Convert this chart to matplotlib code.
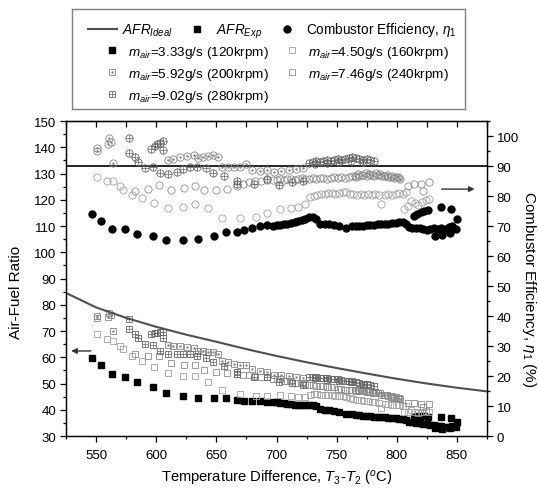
import matplotlib
matplotlib.use("Agg")
import matplotlib.pyplot as plt
from matplotlib.lines import Line2D

plt.rcParams['font.family'] = ['Liberation Sans', 'DejaVu Sans']
plt.rcParams['mathtext.fontset'] = 'custom'
plt.rcParams['mathtext.rm'] = 'Liberation Sans'
plt.rcParams['mathtext.it'] = 'Liberation Sans:italic'

# ideal air-fuel ratio curve
t_ideal = [525, 550, 575, 600, 625, 650, 675, 700, 725, 750, 775, 800, 825, 850, 875]
afr_ideal = [84.5, 79.0, 75.0, 71.6, 68.6, 65.9, 63.1, 60.5, 58.1, 55.9, 53.8, 51.8, 50.0, 48.4, 47.0]

# 3.33 g/s (120krpm)
t_s1 = [547, 554, 563, 574, 584, 597, 608, 622, 635, 648, 658, 667, 673, 680, 686, 692,
        697, 700, 703, 706, 709, 712, 715, 718, 721, 724, 727, 730, 733,
        736, 740, 744, 748, 752, 758,
        763, 766, 769, 772, 775, 778, 781, 784, 787, 790, 793, 796, 799, 802, 805, 808,
        810, 813, 816, 819, 822, 825, 828, 831, 834, 837, 840, 843, 846, 849,
        814, 817, 820, 823, 826, 837, 845, 832, 838, 844, 850]
afr_s1 = [59.7, 57.0, 53.6, 52.5, 50.6, 48.6, 46.4, 45.2, 44.4, 44.4, 44.4, 43.7, 43.3, 43.3, 43.3, 43.0,
          42.9, 42.8, 42.6, 42.5, 42.3, 42.2, 42.0, 42.0, 41.9, 41.9, 42.0, 41.8, 41.3,
          40.2, 40.0, 39.8, 39.5, 39.2, 38.3,
          38.3, 38.1, 38.0, 37.8, 37.7, 37.5, 37.4, 37.3, 37.2, 37.1, 36.9, 36.8, 36.7, 36.6, 36.5, 36.0,
          35.3, 35.2, 35.0, 34.8, 34.6, 34.4, 34.3, 34.1, 33.9, 33.8, 33.6, 33.5, 33.7, 33.6,
          37.3, 37.6, 37.5, 37.8, 37.4, 37.3, 36.9, 33.0, 32.8, 33.0, 35.2]
eff_s1 = [74.0, 71.7, 69.0, 69.0, 67.3, 66.7, 65.3, 65.3, 65.7, 66.7, 68.0, 68.0, 68.7, 69.3, 70.0, 70.3,
          70.0, 70.3, 70.3, 70.7, 70.7, 71.0, 71.3, 71.7, 72.0, 72.3, 73.0, 73.0, 72.3,
          70.7, 70.7, 70.7, 70.3, 70.0, 69.3,
          70.0, 70.0, 70.0, 70.0, 70.3, 70.3, 70.3, 70.7, 70.7, 70.7, 70.7, 71.0, 71.0, 71.3, 71.3, 70.7,
          69.7, 69.3, 69.3, 69.3, 69.0, 68.7, 69.0, 69.3, 69.0, 69.3, 69.0, 69.7, 70.0, 69.0,
          73.3, 74.0, 74.7, 75.0, 75.3, 76.3, 75.7, 66.7, 67.0, 67.7, 72.3]

# 4.50 g/s (160krpm)
t_s2 = [551, 559, 564, 570, 572, 580, 588, 598, 610, 622, 632, 643, 655, 670, 683, 692, 703, 712, 718, 724,
        728, 731, 734, 737, 740, 743, 746, 749, 752, 755, 758, 761, 764, 767, 770, 773, 776, 779, 782, 785,
        790, 793, 796, 799, 802, 805, 808, 787, 806, 809, 812, 815, 818, 821, 824, 827]
afr_s2 = [68.9, 67.0, 66.2, 64.3, 63.0, 60.5, 58.6, 56.3, 54.0, 52.9, 52.9, 50.6, 47.5, 46.0, 45.2, 45.2, 45.6, 45.2, 45.0, 44.9,
          45.8, 46.0, 45.9, 45.8, 45.8, 45.8, 45.5, 45.2, 45.3, 45.2, 45.0, 44.5, 44.1, 43.8, 43.8, 43.5, 43.3, 43.0, 42.9, 42.6,
          42.3, 42.1, 41.8, 41.8, 41.7, 41.3, 41.3, 40.7, 39.0, 39.3, 39.8, 39.3, 38.9, 39.3, 39.5, 39.3]
eff_s2 = [86.3, 85.0, 85.0, 83.3, 82.0, 80.3, 79.3, 77.7, 76.0, 76.3, 77.3, 76.0, 72.7, 72.7, 73.0, 74.3, 75.7, 76.0, 76.3, 77.3,
          79.7, 80.0, 80.3, 80.7, 80.7, 81.0, 81.0, 80.7, 81.0, 81.3, 81.3, 80.7, 80.7, 80.3, 80.7, 80.3, 80.7, 80.3, 80.7, 80.3,
          80.3, 80.7, 80.3, 80.7, 81.0, 80.7, 81.3, 77.3, 75.7, 76.7, 78.3, 77.7, 77.0, 78.0, 78.7, 79.0]

# 5.92 g/s (200krpm)
t_s3 = [551, 551, 560, 561, 562, 564, 610, 614, 620, 626, 631, 635, 639, 643, 647, 651,
        655, 660, 665, 670, 675, 680, 686, 692, 698, 704, 710, 716, 722,
        765, 768, 771, 774, 777, 780, 783, 786, 789, 792, 795, 798, 801, 803]
afr_s3 = [75.6, 74.9, 75.4, 77.0, 76.0, 70.1, 64.7, 64.4, 64.3, 63.9, 63.6, 62.5, 62.3, 62.1, 62.1, 61.3,
          58.7, 58.1, 57.6, 57.0, 57.1, 55.4, 54.7, 54.4, 53.4, 53.1, 52.8, 52.4, 52.1,
          47.4, 47.6, 47.2, 47.3, 46.9, 46.5, 46.6, 46.2, 45.7, 45.6, 45.0, 44.6, 44.5, 44.1]
eff_s3 = [96.0, 95.0, 97.3, 99.3, 98.0, 91.0, 92.0, 92.3, 93.0, 93.3, 93.7, 92.7, 93.0, 93.3, 93.7, 93.0,
          89.7, 89.7, 89.7, 89.7, 90.7, 88.7, 88.3, 88.7, 88.0, 88.3, 88.7, 89.0, 89.3,
          86.7, 87.3, 87.0, 87.7, 87.3, 87.0, 87.7, 87.3, 86.7, 87.0, 86.3, 86.0, 86.3, 85.7]

# 7.46 g/s (240krpm)
t_s4 = [582, 593, 602, 612, 623, 632, 640, 650, 659, 667, 672, 677, 682, 687, 692,
        697, 700, 703, 706, 709, 712, 715, 718, 721, 724, 727, 730, 733, 736, 739, 742, 745, 748, 751, 754,
        757, 760, 763, 766, 769, 772, 775, 778, 781, 784, 787, 790, 793, 796, 799, 802,
        809, 814, 820, 822, 827]
afr_s4 = [61.2, 60.5, 60.5, 57.8, 57.0, 57.0, 55.2, 54.4, 54.0, 53.6, 53.3, 53.2, 53.0, 52.5, 52.3,
          51.9, 51.6, 51.6, 51.1, 51.1, 50.8, 50.3, 50.3, 50.2, 49.8, 49.5, 49.5, 49.2, 49.1, 48.9, 48.5, 48.5, 48.5, 48.1, 48.0,
          47.6, 47.6, 47.6, 47.1, 47.2, 47.1, 46.6, 46.6, 46.2, 46.2, 45.8, 45.6, 45.2, 45.1, 44.7, 44.4,
          42.5, 42.5, 42.3, 41.0, 42.3]
eff_s4 = [81.7, 82.3, 83.7, 82.0, 82.7, 83.3, 82.0, 82.0, 82.3, 83.3, 84.0, 84.7, 85.0, 85.0, 85.3,
          85.3, 85.3, 85.7, 85.3, 85.7, 85.7, 85.3, 85.7, 86.0, 85.7, 85.7, 86.0, 85.7, 86.0, 86.0, 85.7, 86.0, 86.3, 86.0, 86.3,
          86.0, 86.3, 86.7, 86.3, 86.7, 87.0, 86.7, 87.0, 86.7, 87.0, 86.7, 86.7, 86.3, 86.7, 86.3, 86.0,
          83.3, 84.0, 84.0, 81.7, 84.7]

# 9.02 g/s (280krpm)
t_s5 = [577, 577, 582, 585, 591, 597, 603, 610, 617, 622, 628, 634, 641, 647, 656, 667, 667, 681, 692, 702, 713, 722,
        596, 599, 601, 603, 606, 606,
        727, 730, 733, 736, 739, 742, 745, 748, 751, 754, 757, 760, 763, 766, 769, 772, 775, 778, 781,
        732, 742, 752, 762, 772]
afr_s5 = [74.5, 70.7, 69.0, 67.4, 65.1, 64.5, 62.4, 61.4, 61.2, 61.3, 61.2, 60.6, 59.7, 58.1, 56.6, 54.4, 53.8, 52.4, 52.5, 50.5, 50.1, 49.6,
          68.8, 69.1, 69.4, 69.5, 69.5, 67.4,
          52.6, 52.6, 52.6, 52.1, 52.2, 52.1, 51.7, 51.7, 51.6, 51.2, 51.1, 51.1, 51.1, 50.6, 50.2, 49.8, 49.7, 49.3, 48.9,
          52.0, 51.5, 51.0, 50.4, 49.4]
eff_s5 = [99.3, 94.3, 93.0, 91.3, 89.3, 89.7, 87.7, 87.3, 88.0, 89.0, 89.7, 89.7, 89.3, 87.7, 86.7, 85.0, 84.0, 84.0, 85.7, 83.7, 84.7, 85.0,
          95.7, 96.7, 97.3, 97.7, 98.3, 95.3,
          91.0, 91.3, 91.7, 91.3, 91.7, 92.0, 91.7, 92.0, 92.3, 92.0, 92.3, 92.7, 93.0, 92.7, 92.3, 92.0, 92.3, 92.0, 91.7,
          90.7, 91.0, 91.3, 91.7, 91.3]

fig = plt.figure(figsize=(5.38, 4.89), dpi=100)
ax = fig.add_axes([0.1227, 0.1063, 0.7825, 0.6442])
ax2 = ax.twinx()

g2, g3, g4, g5 = '#a0a0a0', '#858585', '#8c8c8c', '#666666'
ms_sq = 4.5
ms_ci = 5.2
mew = 0.6

# AFR (left axis)
ax.plot(t_ideal, afr_ideal, color='#505050', lw=1.5, zorder=3)
h_s1, = ax.plot(t_s1, afr_s1, 's', color='black', ms=4.3, ls='none')
h_s2, = ax.plot(t_s2, afr_s2, 's', mfc='none', mec=g2, ms=ms_sq, mew=mew, ls='none')
h_s3, = ax.plot(t_s3, afr_s3, 's', mfc='none', mec=g3, ms=ms_sq, mew=mew, ls='none')
h_s3b, = ax.plot(t_s3, afr_s3, '.', color=g3, ms=1.5, ls='none')
h_s4, = ax.plot(t_s4, afr_s4, 's', mfc='none', mec=g4, ms=ms_sq, mew=mew, ls='none')
h_s5, = ax.plot(t_s5, afr_s5, 's', mfc='none', mec=g5, ms=ms_sq, mew=mew, ls='none')
h_s5b, = ax.plot(t_s5, afr_s5, '+', color=g5, ms=ms_sq, mew=0.5, ls='none')

# efficiency (right axis)
ax2.axhline(90, color='black', lw=1.2)
ax2.plot(t_s1, eff_s1, 'o', color='black', ms=5, ls='none')
ax2.plot(t_s2, eff_s2, 'o', mfc='none', mec=g2, ms=ms_ci, mew=mew, ls='none')
ax2.plot(t_s3, eff_s3, 'o', mfc='none', mec=g3, ms=ms_ci, mew=mew, ls='none')
ax2.plot(t_s3, eff_s3, '.', color=g3, ms=1.5, ls='none')
ax2.plot(t_s4, eff_s4, 'o', mfc='none', mec=g4, ms=ms_ci, mew=mew, ls='none')
ax2.plot(t_s5, eff_s5, 'o', mfc='none', mec=g5, ms=ms_ci, mew=mew, ls='none')
ax2.plot(t_s5, eff_s5, '+', color=g5, ms=ms_ci, mew=0.5, ls='none')

ax.annotate('', xy=(527, 62.4), xytext=(548, 62.4),
            arrowprops=dict(arrowstyle='-|>', color='#333333', lw=1, mutation_scale=8))
ax2.annotate('', xy=(867, 82.3), xytext=(835, 82.3),
             arrowprops=dict(arrowstyle='-|>', color='#333333', lw=1, mutation_scale=8))

ax.set_xlim(525, 875)
ax.set_ylim(30, 150)
ax2.set_ylim(0, 105)
ax.set_xticks([550, 600, 650, 700, 750, 800, 850])
ax.set_xticks(range(525, 876, 25), minor=True)
ax.set_yticks(range(30, 151, 10))
ax.set_yticks(range(30, 151, 5), minor=True)
ax2.set_yticks(range(0, 101, 10))
ax2.set_yticks(range(0, 106, 5), minor=True)

for a in (ax, ax2):
    a.tick_params(which='major', direction='out', length=4, width=0.9, labelsize=9.5, pad=3)
    a.tick_params(which='minor', direction='out', length=2.2, width=0.9)
    for s in a.spines.values():
        s.set_linewidth(0.9)
ax.tick_params(axis='x', which='major', pad=5)

top = ax.secondary_xaxis('top')
top.set_xticks(range(525, 876, 25))
top.tick_params(direction='in', length=4, width=0.9, labeltop=False)

ax.set_ylabel('Air-Fuel Ratio', fontsize=11)
ax.yaxis.set_label_coords(-0.102, 0.46)
ax2.set_ylabel(r'Combustor Efficiency, $\eta_1$ (%)', fontsize=11, rotation=270, va='center')
ax2.yaxis.set_label_coords(1.10, 0.47)
ax.set_xlabel(r'Temperature Difference, $T_3$-$T_2$ ($^o$C)', fontsize=10.6)
ax.xaxis.set_label_coords(0.5, -0.10)

# legend box
lax = fig.add_axes([0.1338, 0.775, 0.7305, 0.2045])
lax.set_xticks([])
lax.set_yticks([])
for s in lax.spines.values():
    s.set_color('#808080')
    s.set_linewidth(1)

h_ideal = Line2D([], [], color='#505050', lw=1.5)
h_exp = Line2D([], [], marker='s', color='black', ms=4.3, ls='none')
h_eff = Line2D([], [], marker='o', color='black', ms=5, ls='none')
leg1 = lax.legend([h_ideal, h_exp, h_eff],
                  [r'$AFR_{Ideal}$', r'$AFR_{Exp}$', r'Combustor Efficiency, $\eta_1$'],
                  ncol=3, loc='center', bbox_to_anchor=(0.51, 0.79), frameon=False,
                  fontsize=9.8, handlelength=2.1, handletextpad=0.35, columnspacing=0.75,
                  borderpad=0, borderaxespad=0)
lax.add_artist(leg1)

# column-major fill: left column 3.33, 5.92, 9.02; right column 4.50, 7.46
labels2 = [r'$m_{air}$=3.33g/s (120krpm)', r'$m_{air}$=5.92g/s (200krpm)',
           r'$m_{air}$=9.02g/s (280krpm)', r'$m_{air}$=4.50g/s (160krpm)',
           r'$m_{air}$=7.46g/s (240krpm)']
lax.legend([h_s1, (h_s3, h_s3b), (h_s5, h_s5b), h_s2, h_s4], labels2,
           ncol=2, loc='upper left', bbox_to_anchor=(0.085, 0.655), frameon=False,
           fontsize=9.7, handlelength=1.0, handletextpad=0.7, columnspacing=1.2,
           labelspacing=0.45, borderpad=0, borderaxespad=0)

fig.savefig('out.png', dpi=100)
